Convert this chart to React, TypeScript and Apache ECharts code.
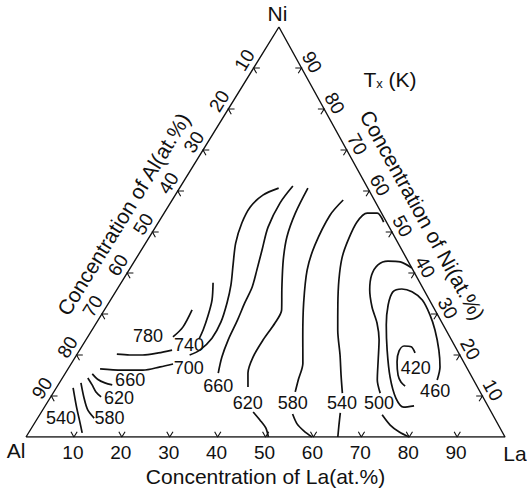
import React, { useEffect, useRef } from "react";
import * as echarts from "echarts";

// Horizontal offset of the Ni apex (the printed triangle is slightly skewed)
const K = 0.528;

// Tick values (at.%)
const tickValues = [10, 20, 30, 40, 50, 60, 70, 80, 90];

// Contour strokes as [La at.%, Ni at.%]
const c780a = [[8.3, 20.2], [11.1, 20.0], [13.8, 20.0], [16.8, 20.5], [19.3, 21.2]];
const c780b = [[18.3, 31.0], [18.6, 26.8], [17.8, 24.4]];
const c740 = [[19.2, 37.6], [21.2, 33.4], [22.4, 29.5], [23.2, 26.1], [23.5, 23.9]];
const c700a = [[20.7, 60.7], [18.3, 59.0], [17.2, 56.1], [17.5, 52.2], [18.8, 47.3], [21.1, 41.9], [23.2, 37.1], [24.7, 32.7], [25.9, 28.0], [26.1, 24.1], [25.1, 21.2], [23.6, 20.0]];
const c700b = [[6.7, 16.6], [11.4, 16.3], [15.8, 16.3], [19.0, 17.1], [21.3, 17.8]];
const c660 = [[23.4, 61.2], [22.9, 57.1], [23.5, 51.2], [25.2, 45.6], [26.7, 40.7], [27.9, 36.6], [28.4, 32.7], [29.1, 28.5], [29.7, 23.7], [30.6, 19.5], [31.9, 15.6]];
const c620a = [[26.8, 60.7], [27.4, 54.6], [28.7, 48.8], [30.9, 43.2], [34.1, 36.6], [37.0, 31.0], [37.3, 27.8], [37.0, 23.7], [37.1, 19.5], [38.1, 15.6], [39.9, 12.2]];
const c620b = [[44.2, 6.1], [46.7, 4.1], [48.9, 2.2], [50.6, 0]];
const c580a = [[35.7, 57.8], [34.9, 54.1], [35.6, 46.8], [37.2, 40.7], [40.7, 32.7], [44.9, 24.4], [48.3, 18.0], [49.5, 13.9], [50.4, 11.0]];
const c580b = [[52.7, 5.6], [54.9, 3.2], [57.2, 1.5], [59.7, 0]];
const c540a = [[47.0, 52.4], [44.5, 54.6], [42.4, 54.6], [41.4, 52.4], [41.9, 48.0], [42.9, 43.7], [45.1, 38.3], [48.1, 32.2], [51.3, 26.1], [55.0, 20.0], [57.8, 15.1], [60.4, 10.7]];
const c540b = [[62.5, 5.9], [63.8, 2.9], [65.1, 0]];
const c500a = [[58.8, 41.2], [55.6, 42.7], [52.9, 42.9], [51.3, 42.0], [51.3, 39.5], [52.8, 35.9], [55.5, 31.7], [58.6, 27.8], [61.2, 23.7], [63.6, 18.8], [66.0, 13.9], [68.3, 10.7]];
const c500b = [[71.5, 5.4], [74.5, 2.9], [77.3, 1.2], [80.0, 0]];
const c460 = [[78.5, 13.9], [77.4, 17.1], [75.0, 21.2], [71.6, 26.1], [68.6, 29.8], [65.1, 33.4], [61.9, 35.4], [59.4, 36.1], [57.9, 35.4], [58.6, 32.2], [60.8, 27.3], [64.2, 21.2], [68.3, 14.6], [72.2, 9.5], [75.0, 7.3], [77.0, 7.6]];
const c420 = [[70.4, 20.5], [68.8, 22.0], [67.2, 22.2], [66.8, 21.0], [67.8, 18.3], [69.7, 15.1], [71.2, 13.4], [72.6, 12.4]];
const c660L = [[5.7, 15.4], [7.5, 14.1], [9.5, 13.2], [11.3, 12.7]];
const c620L = [[5.3, 14.4], [7.1, 12.7], [8.8, 11.0], [10.5, 9.8]];
const c580L = [[4.5, 13.2], [7.1, 9.5], [9.4, 6.6], [11.8, 4.6]];
const c540L = [[3.5, 12.0], [6.7, 7.3], [9.5, 3.4], [11.2, 1.0]];

const strokes = [c780a, c780b, c740, c700a, c700b, c660, c620a, c620b, c580a, c580b, c540a, c540b, c500a, c500b, c460, c420, c660L, c620L, c580L, c540L];

// Contour labels (Tx in K) and their positions [La, Ni]
const labelValues = [780, 740, 700, 660, 620, 580, 540, 500, 420, 460, 660, 620, 580, 540];
const labelLa = [12.5, 22.2, 25.1, 33.6, 41.9, 51.3, 61.6, 69.3, 72.5, 79.5, 14.4, 14.4, 15.0, 4.9];
const labelNi = [24.6, 22.4, 16.8, 12.4, 8.3, 8.3, 8.3, 8.3, 16.8, 11.2, 13.9, 9.5, 4.6, 4.6];

const FONT = "Liberation Sans";

const toXY = (la: number, ni: number) => [la + K * ni, ni];

export default function App() {
  const ref = useRef<HTMLDivElement>(null);
  useEffect(() => {
    const chart = echarts.init(ref.current!, null, { renderer: "svg" });
    const t = 1.3;
    const tickLines: any[] = [];
    tickValues.forEach((v) => {
      tickLines.push({ coords: [toXY(v - t, t), toXY(v, 0), toXY(v, t)] });
      const n = 100 - v; // left edge, Al = v
      tickLines.push({ coords: [toXY(t, n), toXY(0, n), toXY(t, n - t)] });
      // right edge, Ni = v
      tickLines.push({ coords: [toXY(100 - v - t, v), toXY(100 - v, v), toXY(100 - v, v - t)] });
    });

    const series: any[] = [
      {
        type: "line",
        data: [toXY(0, 0), toXY(100, 0), toXY(0, 100), toXY(0, 0)],
        symbol: "none",
        lineStyle: { color: "#111", width: 1.4 },
        silent: true,
      },
      {
        type: "lines",
        coordinateSystem: "cartesian2d",
        polyline: true,
        data: tickLines,
        lineStyle: { color: "#111", width: 1.1, opacity: 1 },
        silent: true,
      },
      ...strokes.map((s) => ({
        type: "line",
        data: s.map(([la, ni]) => toXY(la, ni)),
        smooth: 0.3,
        symbol: "none",
        lineStyle: { color: "#111", width: 1.7 },
        silent: true,
      })),
      {
        type: "scatter",
        data: labelValues.map((v, i) => [...toXY(labelLa[i], labelNi[i]), v]),
        symbolSize: 1,
        itemStyle: { color: "rgba(255,255,255,0)", opacity: 1 },
        label: {
          show: true,
          position: "inside",
          formatter: (p: any) => String(p.value[2]),
          color: "#111",
          opacity: 1,
          textBorderWidth: 0,
          textBorderColor: "transparent",
          fontFamily: FONT,
          fontSize: 18,
          lineHeight: 14,
        },
        labelLayout: { hideOverlap: false },
        silent: true,
        z: 5,
      },
    ];

    chart.setOption({
      animation: false,
      backgroundColor: "#fff",
      grid: { left: 26, right: 22, top: 27, bottom: 54 },
      xAxis: { type: "value", min: 0, max: 100, show: false },
      yAxis: { type: "value", min: 0, max: 100, show: false },
      series,
    });

    const px = (la: number, ni: number) => chart.convertToPixel({ gridIndex: 0 } as any, toXY(la, ni)) as number[];
    const A = px(0, 0);
    const L = px(100, 0);
    const N = px(0, 100);

    const text = (x: number, y: number, s: string, size: number, rot = 0) => ({
      type: "text",
      x,
      y,
      rotation: rot,
      style: { text: s, fill: "#111", font: `${size}px "${FONT}"`, align: "center", verticalAlign: "middle" },
    });

    const g: any[] = [];
    // left edge
    const ldx = N[0] - A[0], ldy = N[1] - A[1];
    const llen = Math.hypot(ldx, ldy);
    const lu = [ldx / llen, ldy / llen];
    const ln = [lu[1], -lu[0]];
    const lrot = Math.atan2(-ldy, ldx);
    // right edge
    const rdx = L[0] - N[0], rdy = L[1] - N[1];
    const rlen = Math.hypot(rdx, rdy);
    const ru = [rdx / rlen, rdy / rlen];
    const rn = [ru[1], -ru[0]];
    const rrot = Math.atan2(-rdy, rdx);

    tickValues.forEach((v) => {
      const b = px(v, 0);
      g.push(text(b[0] - 1, b[1] + 15, String(v), 19));
      const l = px(0, 100 - v);
      g.push(text(l[0] + ln[0] * 12 + lu[0] * 2, l[1] + ln[1] * 12 + lu[1] * 2, String(v), 19, lrot));
      const r = px(100 - v, v);
      g.push(text(r[0] + rn[0] * 12, r[1] + rn[1] * 12, String(v), 19, rrot));
    });

    const lm = [(A[0] + N[0]) / 2, (A[1] + N[1]) / 2];
    g.push(text(lm[0] + ln[0] * 34, lm[1] + ln[1] * 34, "Concentration of Al(at.%)", 21, lrot));
    const rm = [(N[0] + L[0]) / 2, (N[1] + L[1]) / 2];
    g.push(text(rm[0] + rn[0] * 35, rm[1] + rn[1] * 35, "Concentration of Ni(at.%)", 21, rrot));
    const bm = [(A[0] + L[0]) / 2, A[1]];
    g.push(text(bm[0], bm[1] + 39, "Concentration of La(at.%)", 21));

    g.push(text(N[0] - 1.5, N[1] - 13.5, "Ni", 21));
    g.push(text(A[0] - 10, A[1] + 13, "Al", 21));
    g.push(text(L[0] + 10, L[1] + 16, "La", 21));

    const tx = px(29.9, 87.3);
    g.push({
      type: "text",
      x: tx[0],
      y: tx[1],
      style: {
        text: "{a|T}{b|x}{a| (K)}",
        align: "center",
        verticalAlign: "middle",
        fill: "#111",
        rich: {
          a: { fontSize: 21, fontFamily: FONT, fill: "#111", verticalAlign: "bottom" },
          b: { fontSize: 13, fontFamily: FONT, fill: "#111", verticalAlign: "bottom" },
        },
      },
    });

    chart.setOption({ graphic: g });
    return () => chart.dispose();
  }, []);
  return (
    <div
      ref={ref}
      style={{ position: "absolute", left: 0, top: 0, width: 527, height: 491, background: "#fff" }}
    />
  );
}
